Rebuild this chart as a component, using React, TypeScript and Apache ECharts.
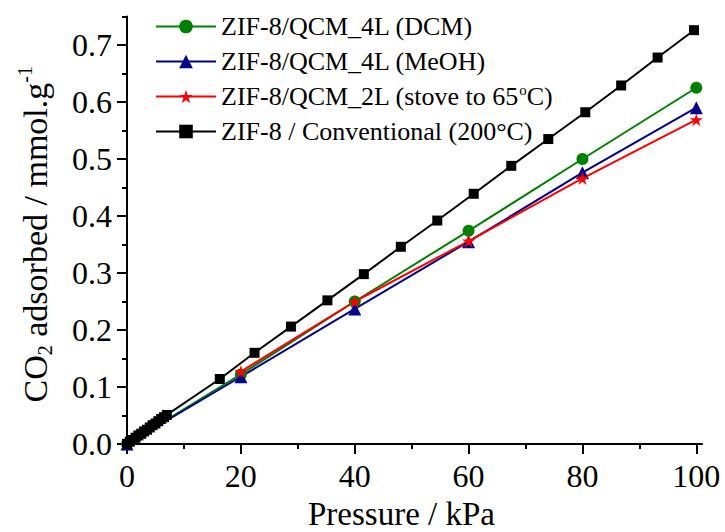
import React, { useEffect, useRef } from "react";
import * as echarts from "echarts";

const FONT = "'Liberation Serif', 'Times New Roman', serif";

const xTicks = [0, 20, 40, 60, 80, 100];
const xMinorTicks = [10, 30, 50, 70, 90];
const yTicks = [0, 0.1, 0.2, 0.3, 0.4, 0.5, 0.6, 0.7];
const yMinorTicks = [0.05, 0.15, 0.25, 0.35, 0.45, 0.55, 0.65, 0.75];

const seriesNames = [
  "ZIF-8/QCM_4L (DCM)",
  "ZIF-8/QCM_4L (MeOH)",
  "ZIF-8/QCM_2L (stove to 65oC)",
  "ZIF-8 / Conventional (200°C)",
];

const dcmPressure = [0, 20, 40, 60, 80, 100];
const dcmValues = [0, 0.122, 0.25, 0.374, 0.5, 0.625];

const meohPressure = [0, 20, 40, 60, 80, 100];
const meohValues = [0, 0.118, 0.237, 0.355, 0.476, 0.59];

const stovePressure = [20, 40, 60, 80, 100];
const stoveValues = [0.127, 0.25, 0.356, 0.466, 0.569];

const convPressure = [
  0, 0.5, 1, 1.5, 2, 2.5, 3, 3.5, 4, 4.5, 5, 5.5, 6, 6.5, 7,
  16.3, 22.4, 28.8, 35.2, 41.6, 48.1, 54.5, 60.9, 67.5, 74, 80.5, 86.8, 93.2, 99.6,
];
const convValues = [
  0, 0.004, 0.007, 0.011, 0.015, 0.018, 0.022, 0.025, 0.029, 0.033, 0.036, 0.04, 0.044, 0.047, 0.051,
  0.114, 0.16, 0.206, 0.252, 0.298, 0.346, 0.392, 0.439, 0.488, 0.535, 0.582, 0.629, 0.678, 0.726,
];

const STAR =
  "path://M0,-10L2.245,-3.09L9.511,-3.09L3.633,1.18L5.878,8.09L0,3.82L-5.878,8.09L-3.633,1.18L-9.511,-3.09L-2.245,-3.09Z";

const zip = (xs: number[], ys: number[]) => xs.map((x, i) => [x, ys[i]]);

export default function App() {
  const ref = useRef<HTMLDivElement>(null);
  useEffect(() => {
    if (!ref.current) return;
    const chart = echarts.init(ref.current, null, { renderer: "svg" });
    const axisLine = { show: true, lineStyle: { color: "#000", width: 2 } };
    const option: any = {
      animation: false,
      backgroundColor: "#fff",
      grid: { left: 127, right: 23, top: 16.5, bottom: 88, containLabel: false, outerBoundsMode: "none" },
      legend: {
        orient: "vertical",
        left: 155,
        top: 12,
        padding: 0,
        itemWidth: 60,
        itemHeight: 17,
        itemGap: 6,
        data: seriesNames,
        formatter: (name: string) =>
          name === seriesNames[2] ? "ZIF-8/QCM_2L (stove to 65{sup|o}C)" : name,
        textStyle: {
          fontFamily: FONT,
          fontSize: 26,
          color: "#000",
          lineHeight: 29,
          rich: {
            sup: { fontFamily: FONT, fontSize: 15, color: "#000", verticalAlign: "top", lineHeight: 15 },
          },
        },
      },
      xAxis: [
        {
          type: "value",
          min: 0,
          max: 101,
          position: "bottom",
          axisLine,
          axisTick: { show: true, length: 10, customValues: xTicks, lineStyle: { color: "#000", width: 2 } },
          axisLabel: {
            customValues: xTicks,
            fontFamily: FONT,
            fontSize: 32,
            color: "#000",
            margin: 16,
          },
          splitLine: { show: false },
          name: "Pressure / kPa",
          nameLocation: "middle",
          nameGap: 53,
          nameTextStyle: { fontFamily: FONT, fontSize: 33, color: "#000", padding: [0, 26, 0, 0] },
        },
        {
          type: "value",
          min: 0,
          max: 101,
          position: "bottom",
          axisLine: { show: false },
          axisTick: { show: true, length: 5, customValues: xMinorTicks, lineStyle: { color: "#000", width: 2 } },
          axisLabel: { show: false },
          splitLine: { show: false },
        },
      ],
      yAxis: [
        {
          type: "value",
          min: 0,
          max: 0.75,
          position: "left",
          axisLine,
          axisTick: { show: true, length: 10, customValues: yTicks, lineStyle: { color: "#000", width: 2 } },
          axisLabel: {
            customValues: yTicks,
            formatter: (v: number) => v.toFixed(1),
            fontFamily: FONT,
            fontSize: 32,
            color: "#000",
            margin: 15,
          },
          splitLine: { show: false },
          name: "CO{sub|2} adsorbed / mmol.g{sup|-1}",
          nameLocation: "middle",
          nameGap: 72,
          nameTextStyle: {
            fontFamily: FONT,
            fontSize: 34,
            color: "#000",
            lineHeight: 40,
            padding: [0, 8, 0, 0],
            rich: {
              sub: { fontFamily: FONT, fontSize: 20, color: "#000", verticalAlign: "bottom", lineHeight: 20 },
              sup: { fontFamily: FONT, fontSize: 20, color: "#000", verticalAlign: "top", lineHeight: 20 },
            },
          },
        },
        {
          type: "value",
          min: 0,
          max: 0.75,
          position: "left",
          axisLine: { show: false },
          axisTick: { show: true, length: 5, customValues: yMinorTicks, lineStyle: { color: "#000", width: 2 } },
          axisLabel: { show: false },
          splitLine: { show: false },
        },
      ],
      series: [
        {
          type: "line",
          name: seriesNames[0],
          data: zip(dcmPressure, dcmValues),
          symbol: "circle",
          symbolSize: 12,
          color: "#008000",
          lineStyle: { width: 2, color: "#008000" },
          itemStyle: { color: "#008000" },
        },
        {
          type: "line",
          name: seriesNames[1],
          data: zip(meohPressure, meohValues),
          symbol: "triangle",
          symbolSize: 13,
          color: "#00008b",
          lineStyle: { width: 2, color: "#00008b" },
          itemStyle: { color: "#00008b" },
        },
        {
          type: "line",
          name: seriesNames[2],
          data: zip(stovePressure, stoveValues),
          symbol: STAR,
          symbolSize: 13,
          color: "#ff0000",
          lineStyle: { width: 2, color: "#ff0000" },
          itemStyle: { color: "#ff0000" },
        },
        {
          type: "line",
          name: seriesNames[3],
          data: zip(convPressure, convValues),
          symbol: "rect",
          symbolSize: 10,
          showAllSymbol: true,
          color: "#000",
          lineStyle: { width: 2, color: "#000" },
          itemStyle: { color: "#000" },
        },
      ],
    };
    chart.setOption(option);
    return () => chart.dispose();
  }, []);
  return <div ref={ref} style={{ width: 725, height: 532, position: "absolute", left: 0, top: 0 }} />;
}
